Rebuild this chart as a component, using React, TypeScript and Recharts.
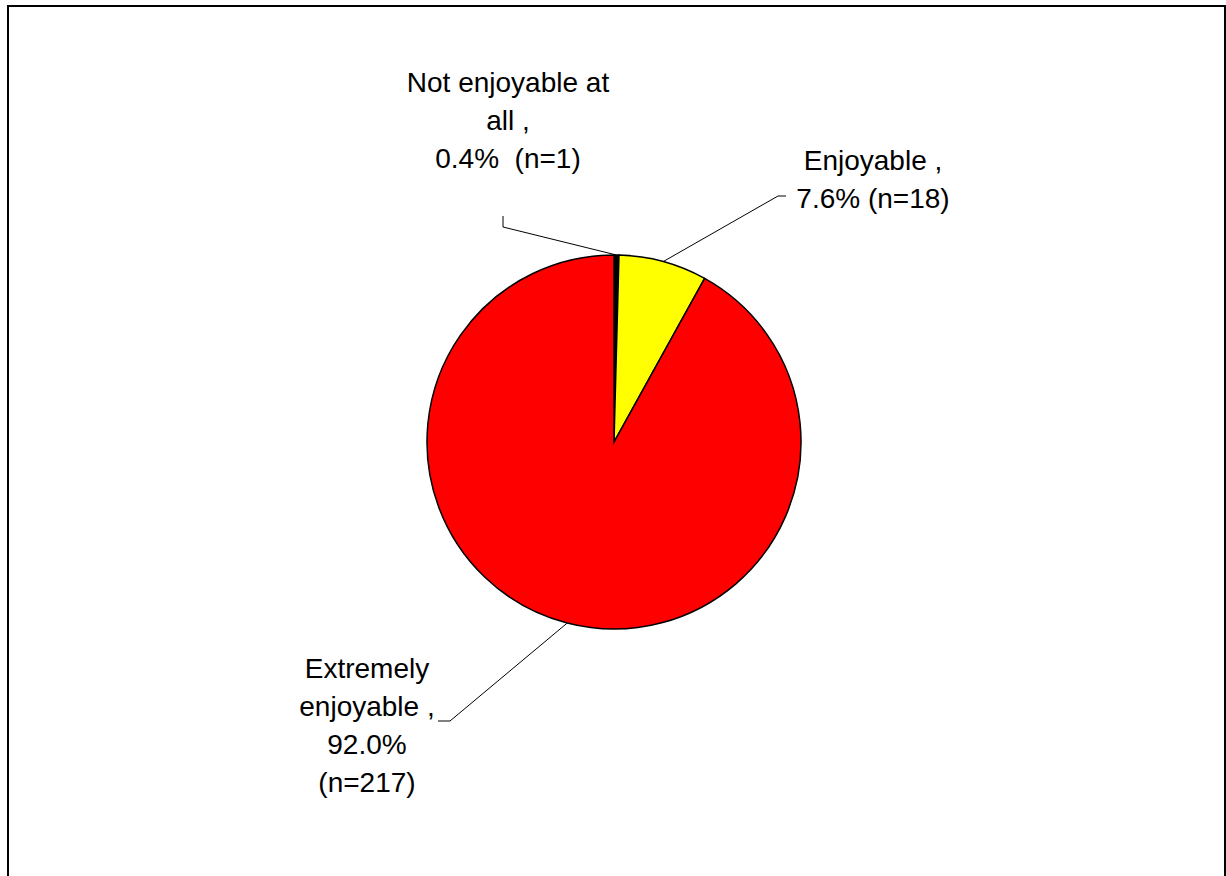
import React from "react";
import { PieChart, Pie, Cell } from "recharts";

const categories = ["Not enjoyable at all", "Enjoyable", "Extremely enjoyable"];
const counts = [1, 18, 217];
const colors = ["#000000", "#FFFF00", "#FF0000"];
const labelLines = [
  ["Not enjoyable at", "all ,", "0.4%  (n=1)"],
  ["Enjoyable ,", "7.6% (n=18)"],
  ["Extremely", "enjoyable ,", "92.0%", "(n=217)"],
];

// label layout offsets relative to pie center
const labelLayout = [
  { elbow: [-111, -215], end: [-111, -226], tx: -106, ty: -360 },
  { elbow: [164, -246], end: [172, -246], tx: 259, ty: -282 },
  { elbow: [-164, 279], end: [-176, 279], tx: -247, ty: 226 },
];
const LINE_H = 38;

const data = categories.map((c, i) => ({ name: c, value: counts[i] }));

const RADIAN = Math.PI / 180;

const renderLabel = (props: any) => {
  const { cx, cy, midAngle, outerRadius, index } = props;
  const lay = labelLayout[index];
  const sx = cx + outerRadius * Math.cos(-midAngle * RADIAN);
  const sy = cy + outerRadius * Math.sin(-midAngle * RADIAN);
  const pts = `${sx},${sy} ${cx + lay.elbow[0]},${cy + lay.elbow[1]} ${cx + lay.end[0]},${cy + lay.end[1]}`;
  return (
    <g key={`lbl-${index}`}>
      <polyline points={pts} fill="none" stroke="#000" strokeWidth={1} />
      {labelLines[index].map((t, j) => (
        <text
          key={j}
          x={cx + lay.tx}
          y={cy + lay.ty + j * LINE_H}
          textAnchor="middle"
          dominantBaseline="central"
          fontFamily="'Liberation Sans', Arial, sans-serif"
          fontSize={28}
          fill="#000"
          style={{ whiteSpace: "pre" }}
        >
          {t}
        </text>
      ))}
    </g>
  );
};

export default function App() {
  return (
    <div style={{ position: "fixed", left: 0, top: 0, width: 1226, height: 876, background: "#fff", overflow: "hidden" }}>
      <div
        style={{
          position: "absolute",
          left: 7,
          top: 5,
          width: 1215,
          height: 900,
          border: "2px solid #000",
        }}
      />
      <div style={{ position: "absolute", left: 0, top: 0 }}>
        <PieChart width={1226} height={876} margin={{ top: 0, right: 0, bottom: 0, left: 0 }}>
          <Pie
            data={data}
            dataKey="value"
            nameKey="name"
            cx={614}
            cy={442}
            outerRadius={187}
            startAngle={90}
            endAngle={-270}
            stroke="#000"
            strokeWidth={1.5}
            isAnimationActive={false}
            label={renderLabel}
            labelLine={false}
          >
            {data.map((d, i) => (
              <Cell key={d.name} fill={colors[i]} />
            ))}
          </Pie>
        </PieChart>
      </div>
    </div>
  );
}
